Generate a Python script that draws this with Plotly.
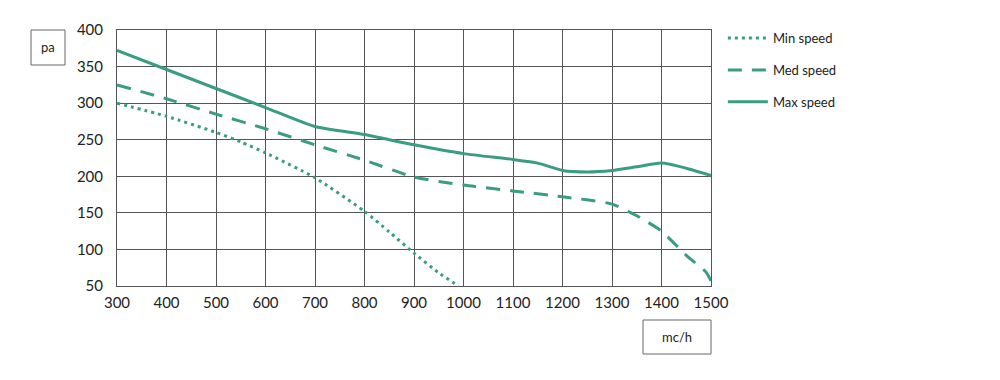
import plotly.graph_objects as go

min_x = [300, 400, 500, 550, 600, 700, 800, 850, 900, 950, 990]
min_y = [300, 282, 260, 247, 232, 198, 152, 124, 95, 68, 50]

med_x = [300, 400, 500, 600, 700, 800, 900, 1000, 1100, 1200, 1300, 1350, 1400, 1450, 1490, 1500]
med_y = [325, 306, 285, 265, 243, 222, 199, 188, 180, 172, 162, 146, 125, 92, 69, 57]

max_x = [300, 400, 500, 600, 700, 800, 900, 1000, 1100, 1150, 1200, 1250, 1300, 1350, 1400, 1450, 1500]
max_y = [372, 346, 320, 294, 268, 257, 243, 231, 223, 218, 208, 206, 208, 213, 218, 211, 201]

x_ticks = list(range(300, 1501, 100))
y_ticks = list(range(50, 401, 50))

color = "#3a9c82"
fig = go.Figure()
fig.add_trace(go.Scatter(x=min_x, y=min_y, mode="lines", name="Min speed", legendgroup="a",
                         line=dict(color=color, width=3, dash="3px,4px", shape="spline", smoothing=0.6)))
fig.add_trace(go.Scatter(x=med_x, y=med_y, mode="lines", name="Med speed", legendgroup="b",
                         line=dict(color=color, width=3, dash="14px,10px", shape="spline", smoothing=0.6)))
fig.add_trace(go.Scatter(x=max_x, y=max_y, mode="lines", name="Max speed", legendgroup="c",
                         line=dict(color=color, width=3, shape="spline", smoothing=0.6)))

grid = "#555555"
fig.update_layout(
    width=1000, height=380,
    margin=dict(l=109, r=297, t=22, b=102, autoexpand=False),
    paper_bgcolor="white", plot_bgcolor="white",
    font=dict(family="Lato, sans-serif", size=15, color="#222222"),
    showlegend=True,
    legend=dict(x=1.02, y=1.027, xanchor="left", yanchor="top", traceorder="grouped",
                tracegroupgap=12, itemwidth=40, font=dict(size=13, color="#222222"),
                bgcolor="rgba(0,0,0,0)"),
    xaxis=dict(range=[300, 1500], tickvals=x_ticks, showgrid=True, gridcolor=grid, gridwidth=1,
               showline=True, linecolor=grid, linewidth=1, mirror=True, zeroline=False,
               ticks="", ticklabelstandoff=3),
    yaxis=dict(range=[50, 400], tickvals=y_ticks, showgrid=True, gridcolor=grid, gridwidth=1,
               showline=True, linecolor=grid, linewidth=1, mirror=True, zeroline=False,
               ticks="", ticklabelstandoff=10),
    shapes=[
        dict(type="rect", xref="paper", yref="paper", x0=(31 - 117) / 594, x1=(65 - 117) / 594,
             y0=(286 - 65) / 256, y1=1.0, line=dict(color="#666666", width=1)),
        dict(type="rect", xref="paper", yref="paper", x0=(643 - 117) / 594, x1=1.0,
             y0=(286 - 354) / 256, y1=(286 - 320) / 256, line=dict(color="#666666", width=1)),
    ],
    annotations=[
        dict(text="pa", xref="paper", yref="paper", x=(48 - 117) / 594, y=(286 - 47) / 256,
             xanchor="center", yanchor="middle",
             showarrow=False, font=dict(size=13, color="#222222")),
        dict(text="mc/h", xref="paper", yref="paper", x=(677 - 117) / 594, y=(286 - 337) / 256,
             xanchor="center", yanchor="middle",
             showarrow=False, font=dict(size=13, color="#222222")),
    ],
)

fig.write_html("out.html")
